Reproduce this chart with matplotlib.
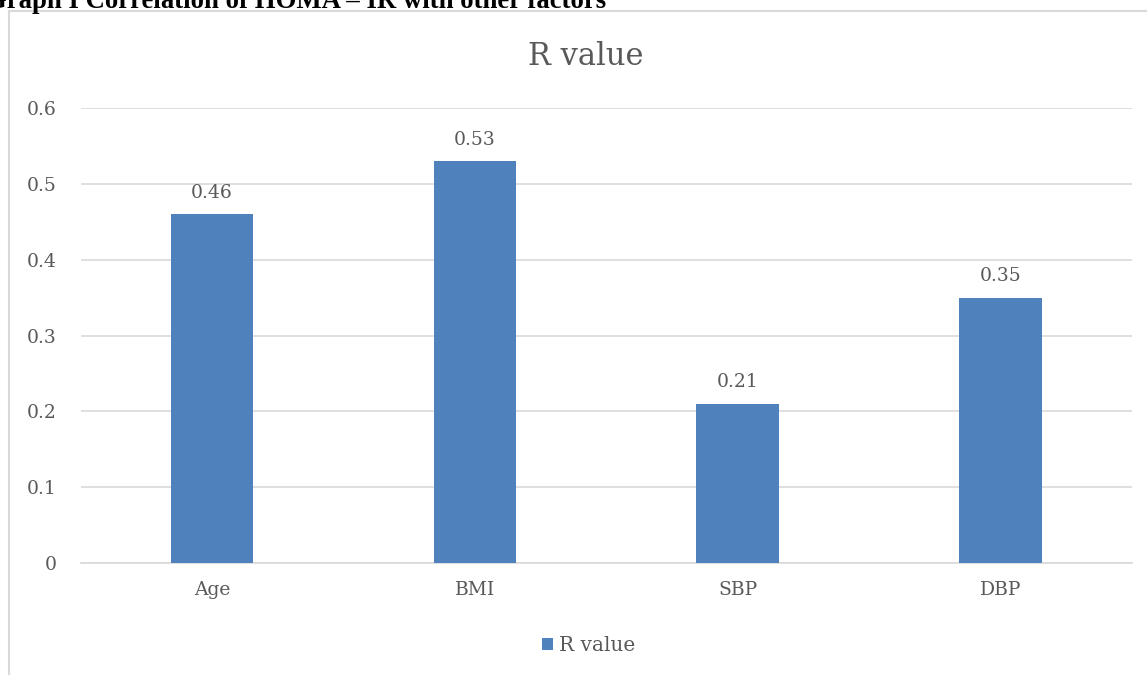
import matplotlib
matplotlib.use("Agg")
import matplotlib.pyplot as plt
from matplotlib.lines import Line2D
from matplotlib.patches import Patch

# data
categories = ["Age", "BMI", "SBP", "DBP"]
r_values = [0.46, 0.53, 0.21, 0.35]
y_ticks = [0, 0.1, 0.2, 0.3, 0.4, 0.5, 0.6]
y_tick_labels = ["0", "0.1", "0.2", "0.3", "0.4", "0.5", "0.6"]

BAR_COLOR = "#4f81bd"
TEXT_COLOR = "#595959"
GRID_COLOR = "#d9d9d9"

plt.rcParams["font.family"] = ["DejaVu Serif"]

fig = plt.figure(figsize=(11.47, 6.75), dpi=100)
ax = fig.add_axes([0.0702, 0.1659, 0.917, 0.674])

x = list(range(len(categories)))
bars = ax.bar(x, r_values, width=0.315, color=BAR_COLOR, zorder=3)

for xi, v in zip(x, r_values):
    ax.annotate(f"{v:.2f}", (xi, v), xytext=(0, 9), textcoords="offset points",
                ha="center", va="bottom", fontsize=13.5, color=TEXT_COLOR)

ax.set_xlim(-0.5, len(categories) - 0.5)
ax.set_ylim(0, 0.6)
ax.set_yticks(y_ticks)
ax.set_yticklabels(y_tick_labels)
ax.set_xticks(x)
ax.set_xticklabels(categories)
ax.tick_params(axis="both", length=0, labelsize=13.5, labelcolor=TEXT_COLOR)
ax.tick_params(axis="y", pad=17)
ax.tick_params(axis="x", pad=13)
ax.yaxis.grid(True, color=GRID_COLOR, linewidth=1.2, zorder=0)
for s in ["top", "right", "left"]:
    ax.spines[s].set_visible(False)
ax.spines["bottom"].set_color(GRID_COLOR)
ax.spines["bottom"].set_linewidth(1.2)

fig.text(0.511, 0.916, "R value", ha="center", va="center", fontsize=22, color=TEXT_COLOR)

# legend
handle = Patch(facecolor=BAR_COLOR)
fig.legend([handle], ["R value"], loc="center", bbox_to_anchor=(0.513, 0.044),
           frameon=False, fontsize=14.5, labelcolor=TEXT_COLOR,
           handlelength=0.55, handleheight=0.55, handletextpad=0.3)

# chart frame (partly cut off by the page)
fig.add_artist(Line2D([9 / 1147, 9 / 1147], [0, 1 - 11 / 675], color=GRID_COLOR,
                      linewidth=1.5, transform=fig.transFigure))
fig.add_artist(Line2D([9 / 1147, 1], [1 - 11 / 675, 1 - 11 / 675], color=GRID_COLOR,
                      linewidth=1.5, transform=fig.transFigure))

# caption clipped at the top of the page, as in the source
fig.text(-0.012, 1 - 8 / 675, "Graph I Correlation of HOMA \u2013 IR with other factors",
         ha="left", va="baseline", fontsize=19.3, fontweight="bold", color="black",
         family=["Liberation Serif", "DejaVu Serif"])

fig.savefig("out.png", dpi=100)
